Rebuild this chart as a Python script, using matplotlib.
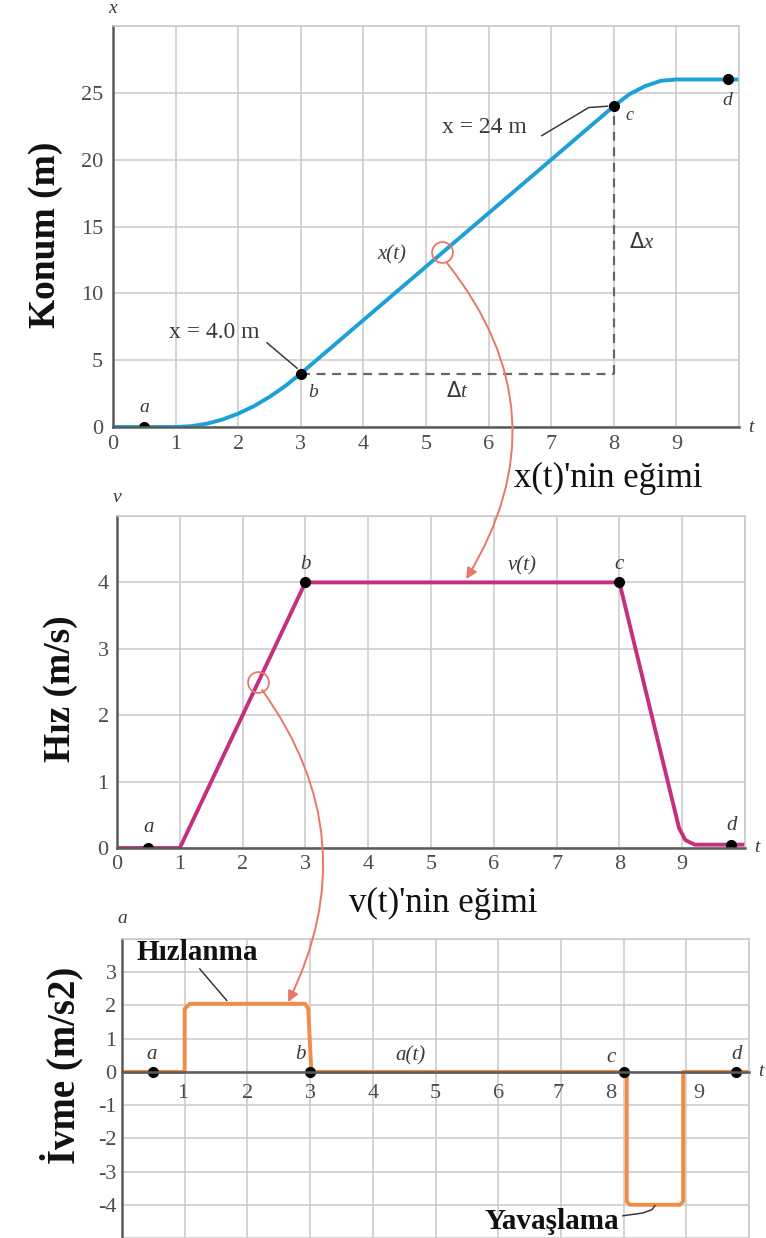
import numpy as np
import matplotlib.pyplot as plt
from matplotlib.patches import ConnectionPatch

plt.rcParams['font.family'] = ['Liberation Serif', 'DejaVu Serif']

# konum x(t)
t_pos = [0, 0.5, 1, 1.25, 1.5, 1.75, 2, 2.25, 2.5, 2.75, 3, 4, 5, 6, 7, 8, 8.25, 8.5, 8.75, 9, 10]
x_pos = [0, 0, 0, 0.06, 0.25, 0.56, 1, 1.56, 2.25, 3.06, 4, 8, 12, 16, 20, 24, 24.9, 25.5, 25.9, 26, 26]

# hiz v(t)
t_vel = [0, 1, 3, 8, 8.95, 9.05, 9.2, 10]
v_vel = [0, 0, 4, 4, 0.3, 0.12, 0.05, 0.05]

# ivme a(t)
t_acc = [0, 1.0, 1.0, 1.08, 2.92, 2.97, 3.02, 8.05, 8.05, 8.1, 8.9, 8.95, 8.95, 10]
a_acc = [0, 0, 1.9, 2.05, 2.05, 1.9, 0, 0, -3.9, -4.0, -4.0, -3.9, 0, 0]

# noktalar a, b, c, d
pt_names = ['a', 'b', 'c', 'd']
pt_t_pos = [0.5, 3, 8, 9.82]
pt_x_pos = [0, 4, 24, 26]
pt_t_vel = [0.5, 3, 8, 9.78]
pt_v_vel = [0, 4, 4, 0.05]
pt_t_acc = [0.5, 3, 8, 9.8]
pt_a_acc = [0, 0, 0, 0]

pos_yticks = [0, 5, 10, 15, 20, 25]
vel_yticks = [0, 1, 2, 3, 4]
acc_yticks = [3, 2, 1, 0, -1, -2, -3, -4]
t_ticks = [0, 1, 2, 3, 4, 5, 6, 7, 8, 9]

W, H = 766, 1238
fig = plt.figure(figsize=(W / 100, H / 100), dpi=100)


def box(l, r, t, b):
    return [l / W, 1 - b / H, (r - l) / W, (b - t) / H]


grid_c = '#c9c9c9'
spine_c = '#5a5a5a'
tick_c = '#4d4d4d'
lab_c = '#3a3a3a'
red_c = '#e8766a'


def setup(ax, ylo, yhi, ystep):
    ax.set_xlim(0, 10)
    ax.set_ylim(ylo, yhi)
    ax.set_xticks(np.arange(0, 11, 1))
    ax.set_yticks(np.arange(ylo, yhi + 0.01, ystep))
    ax.grid(True, color=grid_c, lw=1.1)
    ax.set_axisbelow(True)
    for s in ['top', 'right']:
        ax.spines[s].set_color(grid_c)
        ax.spines[s].set_linewidth(1.1)
    for s in ['left', 'bottom']:
        ax.spines[s].set_color(spine_c)
        ax.spines[s].set_linewidth(1.8)
    ax.tick_params(length=0, labelsize=16, labelcolor=tick_c)


# ---- Konum ----
ax1 = fig.add_axes(box(113, 739, 26, 427))
setup(ax1, 0, 30, 5)
ax1.set_xticklabels([str(v) for v in t_ticks] + [''])
ax1.set_yticklabels([str(v) for v in pos_yticks] + [''])
ax1.tick_params(axis='y', pad=7)
ax1.tick_params(axis='x', pad=6)
ax1.plot([3, 8], [4, 4], color='#666666', ls=(0, (4, 3)), lw=1.6)
ax1.plot([8, 8], [4, 24], color='#666666', ls=(0, (4, 3)), lw=1.6)
ax1.plot(t_pos, x_pos, color='#1ca0d8', lw=2.8, solid_capstyle='butt')
ax1.plot(pt_t_pos, pt_x_pos, 'o', color='black', ms=7)
ax1.plot([5.26], [13.1], 'o', mfc='none', mec=red_c, ms=15, mew=1.3)
ax1.text(0.5, 0.8, 'a', style='italic', fontsize=14, color=lab_c, ha='center', va='bottom')
ax1.text(3.2, 2.6, 'b', style='italic', fontsize=14, color=lab_c, ha='center', va='center')
ax1.text(8.25, 23.3, 'c', style='italic', fontsize=13, color=lab_c, ha='center', va='center')
ax1.text(9.82, 24.4, 'd', style='italic', fontsize=14, color=lab_c, ha='center', va='center')
ax1.text(4.45, 12.9, 'x(t)', style='italic', fontsize=15, color=lab_c, ha='center', va='center')
ax1.text(8.45, 13.8, r'$\Delta$x', style='italic', fontsize=15, color=lab_c, ha='center', va='center')
ax1.text(5.5, 2.6, r'$\Delta$t', style='italic', fontsize=15, color=lab_c, ha='center', va='center')
ax1.text(1.62, 7.1, 'x = 4.0 m', fontsize=17, color=lab_c, ha='center', va='center')
ax1.plot([2.46, 2.94], [6.3, 4.4], color=lab_c, lw=1.1)
ax1.text(5.93, 22.4, 'x = 24 m', fontsize=17, color=lab_c, ha='center', va='center')
ax1.plot([6.85, 7.6, 7.9], [21.8, 23.9, 24.0], color=lab_c, lw=1.1)
ax1.text(0, 30.7, 'x', style='italic', fontsize=14, color=lab_c, ha='center', va='bottom')
ax1.text(10.15, 0, 't', style='italic', fontsize=14, color=lab_c, ha='left', va='center')

# ---- Hiz ----
ax2 = fig.add_axes(box(117, 745, 516, 848))
setup(ax2, 0, 5, 1)
ax2.set_xticklabels([str(v) for v in t_ticks] + [''])
ax2.set_yticklabels([str(v) for v in vel_yticks] + [''])
ax2.tick_params(axis='y', pad=6)
ax2.tick_params(axis='x', pad=5)
ax2.plot(t_vel, v_vel, color='#c42f7e', lw=2.8)
ax2.plot(pt_t_vel, pt_v_vel, 'o', color='black', ms=7)
ax2.plot([2.25], [2.5], 'o', mfc='none', mec=red_c, ms=15, mew=1.3)
ax2.text(0.5, 0.16, 'a', style='italic', fontsize=15, color=lab_c, ha='center', va='bottom')
ax2.text(3.0, 4.12, 'b', style='italic', fontsize=15, color=lab_c, ha='center', va='bottom')
ax2.text(8.0, 4.12, 'c', style='italic', fontsize=15, color=lab_c, ha='center', va='bottom')
ax2.text(9.78, 0.2, 'd', style='italic', fontsize=15, color=lab_c, ha='center', va='bottom')
ax2.text(6.45, 4.1, 'v(t)', style='italic', fontsize=15, color=lab_c, ha='center', va='bottom')
ax2.text(0, 5.15, 'v', style='italic', fontsize=14, color=lab_c, ha='center', va='bottom')
ax2.text(10.15, 0, 't', style='italic', fontsize=14, color=lab_c, ha='left', va='center')

# ---- Ivme ----
ax3 = fig.add_axes(box(122, 749, 939, 1238))
setup(ax3, -5, 4, 1)
ax3.spines['bottom'].set_position(('data', 0))
ax3.set_xticklabels([])
ax3.set_yticklabels([''] + [str(v) for v in acc_yticks[::-1]] + [''])
ax3.tick_params(axis='y', pad=4)
ax3.plot(t_acc, a_acc, color='#f28c45', lw=2.8)
ax3.plot(pt_t_acc, pt_a_acc, 'o', color='black', ms=7)
tick_x = [0.97, 2.0, 3.0, 4.0, 5.0, 6.0, 6.95, 7.8, 9.2]
for tx, lbl in zip(tick_x, t_ticks[1:]):
    ax3.text(tx, -0.66, str(lbl), fontsize=16, color=tick_c, ha='center', va='center')
ax3.text(0.48, 0.25, 'a', style='italic', fontsize=15, color=lab_c, ha='center', va='bottom')
ax3.text(2.84, 0.25, 'b', style='italic', fontsize=15, color=lab_c, ha='center', va='bottom')
ax3.text(7.8, 0.15, 'c', style='italic', fontsize=15, color=lab_c, ha='center', va='bottom')
ax3.text(9.8, 0.25, 'd', style='italic', fontsize=15, color=lab_c, ha='center', va='bottom')
ax3.text(4.6, 0.2, 'a(t)', style='italic', fontsize=15, color=lab_c, ha='center', va='bottom')
ax3.text(0, 4.35, 'a', style='italic', fontsize=14, color=lab_c, ha='center', va='bottom')
ax3.text(10.15, 0, 't', style='italic', fontsize=14, color=lab_c, ha='left', va='center')
ax3.text(1.2, 3.6, 'Hızlanma', fontsize=21, fontweight='bold', color='#111111', ha='center', va='center')
ax3.plot([1.24, 1.67], [3.1, 2.15], color=lab_c, lw=1.1)
ax3.text(6.86, -4.5, 'Yavaşlama', fontsize=21, fontweight='bold', color='#111111', ha='center', va='center')
ax3.plot([7.99, 8.3, 8.45, 8.5], [-4.33, -4.25, -4.15, -4.03], color=lab_c, lw=1.1)

# eksen basliklari
fig.text(46 / W, 1 - 235 / H, 'Konum (m)', rotation=90, fontsize=27, fontweight='bold',
         ha='center', va='center', color='#111111')
fig.text(60 / W, 1 - 689 / H, 'Hız (m/s)', rotation=90, fontsize=27, fontweight='bold',
         ha='center', va='center', color='#111111')
fig.text(62 / W, 1 - 1065 / H, 'İvme (m/s2)', rotation=90, fontsize=28, fontweight='bold',
         ha='center', va='center', color='#111111')

fig.text(608 / W, 1 - 478 / H, "x(t)'nin eğimi", fontsize=25, ha='center', va='center', color='#111111')
fig.text(443 / W, 1 - 903 / H, "v(t)'nin eğimi", fontsize=25, ha='center', va='center', color='#111111')

# egim oklari
arr1 = ConnectionPatch(xyA=(5.33, 12.3), coordsA=ax1.transData,
                       xyB=(5.56, 4.05), coordsB=ax2.transData,
                       arrowstyle='-|>', connectionstyle='arc3,rad=-0.35',
                       color=red_c, lw=1.4, mutation_scale=16)
fig.add_artist(arr1)
arr2 = ConnectionPatch(xyA=(2.31, 2.38), coordsA=ax2.transData,
                       xyB=(2.65, 2.1), coordsB=ax3.transData,
                       arrowstyle='-|>', connectionstyle='arc3,rad=-0.3',
                       color=red_c, lw=1.4, mutation_scale=16)
fig.add_artist(arr2)

fig.savefig('out.png', dpi=100)
